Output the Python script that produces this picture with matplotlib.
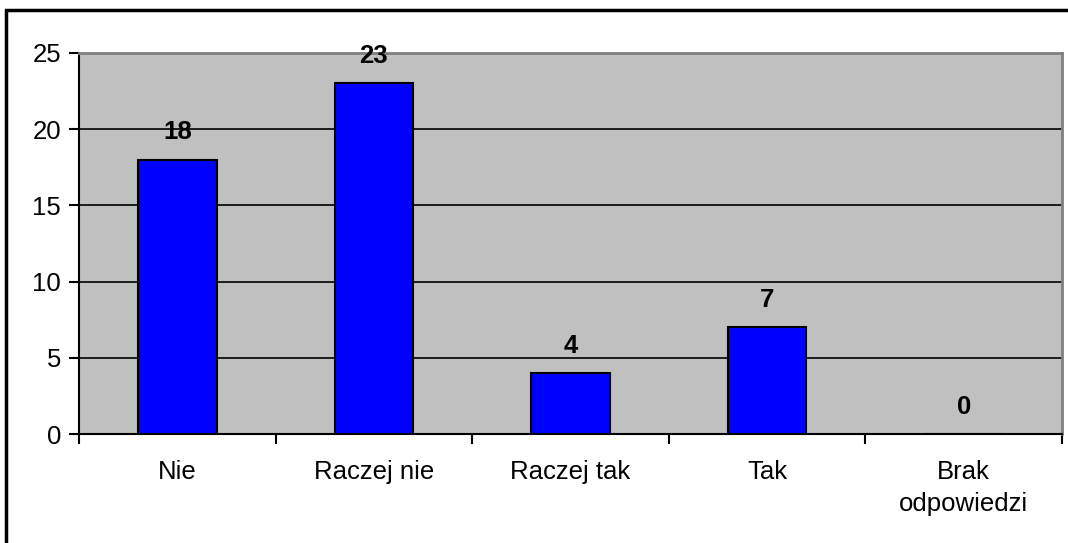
import matplotlib.pyplot as plt
import numpy as np
from matplotlib.patches import Rectangle

plt.rcParams['font.family'] = ['Liberation Sans', 'DejaVu Sans']

# Dane z wykresu
kategorie = ["Nie", "Raczej nie", "Raczej tak", "Tak", "Brak\nodpowiedzi"]
wartosci = [18, 23, 4, 7, 0]
yticki = [0, 5, 10, 15, 20, 25]

fs = 18.5

fig = plt.figure(figsize=(10.68, 5.43), dpi=100)
ax = fig.add_axes([79/1068, 1 - 434/543, (1062 - 79)/1068, (434 - 53)/543])

# ramka wokol calego wykresu
fig.patches.append(Rectangle((6/1068, -0.1), 1.5, 1 - 10/543 + 0.1, transform=fig.transFigure,
                             fill=False, edgecolor='black', linewidth=2.5, clip_on=False))

ax.set_facecolor('#C0C0C0')
x = np.arange(len(kategorie))
ax.bar(x, wartosci, width=0.4, color='#0000FF', edgecolor='black', linewidth=1.5, zorder=3)

for xi, v in zip(x, wartosci):
    ax.annotate(str(v), (xi, v), xytext=(0, 11), textcoords='offset points',
                ha='center', va='bottom', fontsize=fs, fontweight='bold')

ax.set_xlim(-0.5, len(kategorie) - 0.5)
ax.set_ylim(0, 25)
ax.set_yticks(yticki)
for y in yticki[1:-1]:
    ax.axhline(y, color='black', linewidth=1.2, zorder=1)

ax.set_xticks(x)
ax.set_xticklabels(kategorie, fontsize=fs, linespacing=1.4)
ax.set_xticks(np.arange(-0.5, len(kategorie)), minor=True)
ax.tick_params(axis='x', which='major', length=0, pad=19)
ax.tick_params(axis='x', which='minor', length=7, width=1.5, direction='out')
ax.tick_params(axis='y', length=7, width=1.5, labelsize=fs, pad=6)

for s in ['left', 'bottom']:
    ax.spines[s].set_color('black')
    ax.spines[s].set_linewidth(1.5)
for s in ['top', 'right']:
    ax.spines[s].set_color('#808080')
    ax.spines[s].set_linewidth(2)

fig.savefig('out.png', dpi=100)
